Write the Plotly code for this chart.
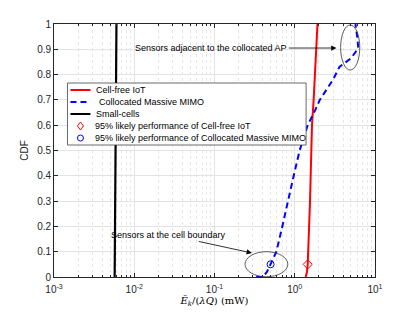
import numpy as np
import plotly.graph_objects as go

# ---- data ----
cf_cdf = [0, 0.02, 0.05, 0.1, 0.2, 0.3, 0.4, 0.5, 0.6, 0.7, 0.8, 0.9, 1.0]
cf_x   = [1.37, 1.42, 1.45, 1.48, 1.51, 1.55, 1.58, 1.61, 1.64, 1.72, 1.78, 1.85, 1.92]

mm_cdf = [0, 0.0, 0.02, 0.05, 0.1, 0.2, 0.3, 0.4, 0.5, 0.6, 0.66, 0.7, 0.78, 0.83, 0.864, 0.904, 0.95, 1.0]
mm_x   = [0.33, 0.40, 0.45, 0.50, 0.59, 0.70, 0.82, 0.97, 1.15, 1.45, 1.8, 2.05, 3.0, 3.6, 5.0, 6.2, 6.0, 5.7]

sc_cdf = [0, 0.5, 1.0]
sc_x   = [0.0057, 0.00585, 0.0060]

p95_cf = (1.45, 0.05)
p95_mm = (0.50, 0.05)

x_ticks = [1e-3, 1e-2, 1e-1, 1e0, 1e1]
x_tick_text = ["10<sup>-3</sup>", "10<sup>-2</sup>", "10<sup>-1</sup>", "10<sup>0</sup>", "10<sup>1</sup>"]
y_ticks = [0, 0.1, 0.2, 0.3, 0.4, 0.5, 0.6, 0.7, 0.8, 0.9, 1]
y_tick_text = ["0", "0.1", "0.2", "0.3", "0.4", "0.5", "0.6", "0.7", "0.8", "0.9", "1"]

legend_names = ["Cell-free IoT", "Collocated Massive MIMO", "Small-cells",
                "95% likely performance of Cell-free IoT",
                "95% likely performance of Collocated Massive MIMO"]

minor_vals = [d * m for d in x_ticks[:-1] for m in range(2, 10)]

FONT = "Liberation Sans, Arial, sans-serif"
OFF = 8  # default page body margin
W, H = 415 - OFF, 312 - OFF
L, T = 53.5 - OFF, 24 - OFF
R = W - (375 - OFF)
B = H - (277 - OFF)
PW, PH = W - L - R, H - T - B


def px_x(p):
    return (p - OFF - L) / PW


def px_y(p):
    return (H - B - (p - OFF)) / PH


fig = go.Figure()
fig.add_trace(go.Scatter(x=cf_x, y=cf_cdf, mode="lines", name=legend_names[0],
                         line=dict(color="#ff0000", width=2)))
fig.add_trace(go.Scatter(x=mm_x, y=mm_cdf, mode="lines", name=legend_names[1],
                         line=dict(color="#0000ff", width=2, dash="6px,4px")))
fig.add_trace(go.Scatter(x=sc_x, y=sc_cdf, mode="lines", name=legend_names[2],
                         line=dict(color="#000000", width=2.2)))
fig.add_trace(go.Scatter(x=[p95_cf[0]], y=[p95_cf[1]], mode="markers", name=legend_names[3],
                         marker=dict(symbol="diamond-open", color="#ff0000", size=7, line=dict(width=1))))
fig.add_trace(go.Scatter(x=[p95_mm[0]], y=[p95_mm[1]], mode="markers", name=legend_names[4],
                         marker=dict(symbol="circle-open", color="#0000ff", size=7, line=dict(width=1))))

# ellipses (shape coords on a log axis are data values)
fig.add_shape(type="circle", xref="x", yref="y", x0=3.73, x1=6.46, y0=0.818, y1=0.996,
              line=dict(color="#333333", width=0.8))
fig.add_shape(type="circle", xref="x", yref="y", x0=0.24, x1=0.82, y0=0.001, y1=0.1,
              line=dict(color="#333333", width=0.8))

fig.add_annotation(x=0.519, y=0.905, xref="x", yref="y",
                   text="Sensors adjacent to the collocated AP",
                   showarrow=True, ax=-125, ay=0, arrowhead=2, arrowsize=1.3,
                   arrowwidth=0.8, arrowcolor="#000000",
                   font=dict(family=FONT, size=9, color="#000000"))
fig.add_annotation(x=-0.535, y=0.095, xref="x", yref="y",
                   text="Sensors at the cell boundary",
                   showarrow=True, ax=-83, ay=-18, arrowhead=2, arrowsize=1.3,
                   arrowwidth=0.8, arrowcolor="#000000",
                   font=dict(family=FONT, size=9, color="#000000"))

# ---- custom compact legend (MATLAB style) ----
fig.add_shape(type="rect", xref="paper", yref="paper",
              x0=px_x(67), x1=px_x(306), y0=px_y(145), y1=px_y(83),
              line=dict(color="#444444", width=0.8), fillcolor="white", layer="above")
rows = [90, 102, 114, 126, 138]
for yy, col, dash in zip(rows[:3], ["#ff0000", "#0000ff", "#000000"],
                         ["solid", "6px,4px", "solid"]):
    fig.add_shape(type="line", xref="paper", yref="paper",
                  x0=px_x(70), x1=px_x(90), y0=px_y(yy), y1=px_y(yy),
                  line=dict(color=col, width=2, dash=dash), layer="above")
fig.add_shape(type="path", xref="paper", yref="paper", layer="above",
              path="M {a},{b} L {c},{d} L {a},{e} L {f},{d} Z".format(
                  a=px_x(80), b=px_y(rows[3] - 4), c=px_x(83), d=px_y(rows[3]),
                  e=px_y(rows[3] + 4), f=px_x(77)),
              line=dict(color="#ff0000", width=1))
fig.add_shape(type="circle", xref="paper", yref="paper", layer="above",
              x0=px_x(77), x1=px_x(83), y0=px_y(rows[4] + 3), y1=px_y(rows[4] - 3),
              line=dict(color="#0000ff", width=1))
for yy, name, xs in zip(rows, legend_names, [94, 97, 94, 93, 93]):
    fig.add_annotation(xref="paper", yref="paper", x=px_x(xs), y=px_y(yy),
                       xanchor="left", yanchor="middle", showarrow=False, text=name,
                       font=dict(family=FONT, size=9, color="#000000"))

fig.update_layout(
    width=W, height=H,
    margin=dict(l=L, r=R, t=T, b=B),
    paper_bgcolor="white", plot_bgcolor="white",
    font=dict(family=FONT, size=10, color="#262626"),
    showlegend=False,
)
fig.update_xaxes(type="log", range=[-3, 1], tickvals=x_ticks, ticktext=x_tick_text,
                 automargin=False, ticklabelstandoff=3,
                 showgrid=True, gridcolor="#e3e3e3", gridwidth=0.8,
                 ticks="inside", ticklen=4, tickcolor="#262626",
                 showline=True, linecolor="#262626", linewidth=0.8, mirror="ticks",
                 zeroline=False,
                 minor=dict(tickvals=minor_vals, showgrid=True, gridcolor="#e6e6e6",
                            griddash="dot", gridwidth=0.8, ticks="inside", ticklen=2,
                            tickcolor="#262626"),
                 title=dict(text="<i>Ē</i><sub><i>k</i></sub>/(<i>λQ</i>) (mW)",
                            font=dict(family="DejaVu Serif, serif", size=10, color="#000000"),
                            standoff=2))
fig.update_yaxes(range=[0, 1], tickvals=y_ticks, ticktext=y_tick_text,
                 automargin=False,
                 showgrid=True, gridcolor="#e3e3e3", gridwidth=0.8,
                 ticks="inside", ticklen=4, tickcolor="#262626",
                 showline=True, linecolor="#262626", linewidth=0.8, mirror="ticks",
                 zeroline=False,
                 title=dict(text="CDF", font=dict(family=FONT, size=10, color="#262626"),
                            standoff=6))

fig.write_html("out.html")
